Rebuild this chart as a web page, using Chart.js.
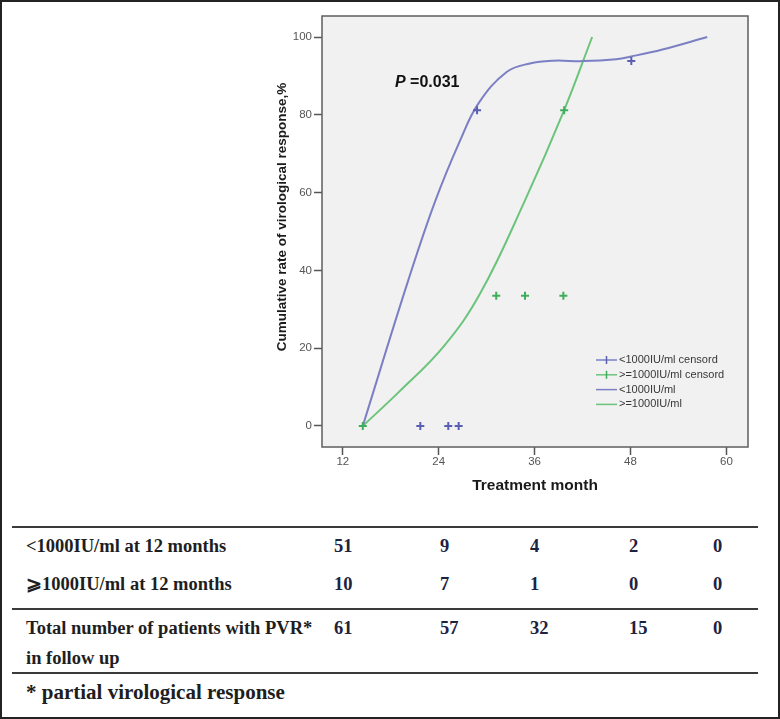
<!DOCTYPE html>
<html>
<head>
<meta charset="utf-8">
<title>Cumulative rate of virological response</title>
<script src="https://cdn.jsdelivr.net/npm/chart.js"></script>
<style>
  body { margin: 0; background: #fff; }
  #wrap { position: relative; width: 780px; height: 719px; overflow: hidden; background: #fff; }
  #frame { position: absolute; left: 0; top: 0; width: 780px; height: 719px; box-sizing: border-box; border: 2px solid #232323; pointer-events: none; }
  #chart { position: absolute; left: 0; top: 0; }
  .rule { position: absolute; left: 12px; width: 746px; height: 2px; background: #3a3a3a; }
  .cell { position: absolute; font: bold 18.5px "Liberation Serif", "Times New Roman", serif; line-height: 22px; color: #1e1e1e; white-space: nowrap; }
  .num { color: #1c2342; }
  .note { font-size: 21px; }
</style>
</head>
<body>
<div id="wrap">
  <canvas id="chart" width="780" height="500"></canvas>
  <div id="table"></div>
  <div id="frame"></div>
</div>
<script>
// values: treatment month vs cumulative rate (%)
var xTicks = [12, 24, 36, 48, 60];
var yTicks = [0, 20, 40, 60, 80, 100];

var lowCurveMonths = [14.5, 20.2, 23.6, 26.7, 29.0, 32.5, 35.4, 38.3, 42.1, 46.2, 48.1, 52.0, 57.6];
var lowCurveRates  = [0, 37.5, 58, 73.5, 83, 91, 93.2, 93.9, 93.8, 94.3, 95, 96.8, 100];

var highCurveMonths = [14.5, 19.0, 24.6, 29.2, 34.8, 39.7, 43.2];
var highCurveRates  = [0, 8.7, 20.4, 34.1, 58, 81.2, 100];

var lowCensorMonths = [21.7, 25.2, 26.5, 28.8, 48.1];
var lowCensorRates  = [0, 0, 0, 81.2, 93.8];

var highCensorMonths = [14.5, 31.2, 34.8, 39.6, 39.7];
var highCensorRates  = [0, 33.5, 33.5, 33.5, 81.2];

// numbers at risk table
var rowLabels = ['<1000IU/ml at 12 months', '\u2A7E1000IU/ml at 12 months', 'Total number of patients with PVR*'];
var lowCounts = [51, 9, 4, 2, 0];
var highCounts = [10, 7, 1, 0, 0];
var totalCounts = [61, 57, 32, 15, 0];

function toPoints(xs, ys) {
    return xs.map(function(x, i) { return {x: x, y: ys[i]}; });
}

var BLUE_LINE = '#7b7fc3', BLUE_MARK = '#5a5fb2';
var GREEN_LINE = '#6cc47c', GREEN_MARK = '#3fae5c';
var SANS = '"Liberation Sans", Arial, sans-serif';

Chart.defaults.font.family = SANS;

var framePlugin = {
    id: 'frame',
    beforeDraw: function(chart) {
        var a = chart.chartArea, ctx = chart.ctx;
        ctx.save();
        ctx.fillStyle = '#f1f1f1';
        ctx.fillRect(a.left, a.top, a.right - a.left, a.bottom - a.top);
        ctx.restore();
    },
    afterDraw: function(chart) {
        var a = chart.chartArea, ctx = chart.ctx;
        ctx.save();
        ctx.strokeStyle = '#5e5e5e';
        ctx.lineWidth = 1.5;
        ctx.strokeRect(a.left, a.top, a.right - a.left, a.bottom - a.top);

        // y axis title, sits a little above the middle of the axis
        ctx.save();
        ctx.translate(a.left - 40, a.top + 201);
        ctx.rotate(-Math.PI / 2);
        ctx.font = 'bold 13.5px ' + SANS;
        ctx.fillStyle = '#1a1a1a';
        ctx.textAlign = 'center';
        ctx.textBaseline = 'middle';
        ctx.fillText('Cumulative rate of virological response,%', 0, 0);
        ctx.restore();

        // legend in lower right of the plot
        var x0 = a.right - 152;
        ctx.font = '11px ' + SANS;
        ctx.textBaseline = 'middle';
        chart.data.datasets.forEach(function(ds, i) {
            var y = a.bottom - 87 + i * 14.8;
            ctx.strokeStyle = ds.legendColor;
            ctx.lineWidth = 1.5;
            ctx.beginPath();
            ctx.moveTo(x0, y);
            ctx.lineTo(x0 + 21, y);
            ctx.stroke();
            if (ds.pointStyle === 'cross') {
                ctx.strokeStyle = ds.borderColor;
                ctx.beginPath();
                ctx.moveTo(x0 + 10.5, y - 4);
                ctx.lineTo(x0 + 10.5, y + 4);
                ctx.stroke();
            }
            ctx.fillStyle = '#383838';
            ctx.fillText(ds.label, x0 + 23, y);
        });

        // log rank p value
        var px = a.left + 73, py = a.top + 67;
        ctx.fillStyle = '#111';
        ctx.font = 'italic bold 16px ' + SANS;
        ctx.fillText('P', px, py);
        var w = ctx.measureText('P').width;
        ctx.font = 'bold 16px ' + SANS;
        ctx.fillText(' =0.031', px + w, py);
        ctx.restore();
    }
};

var tickFont = {size: 11.5};

new Chart(document.getElementById('chart').getContext('2d'), {
    type: 'line',
    data: {
        datasets: [{
            label: '<1000IU/ml censord',
            data: toPoints(lowCensorMonths, lowCensorRates),
            showLine: false,
            pointStyle: 'cross',
            pointRadius: 4,
            pointBorderWidth: 2,
            borderColor: BLUE_MARK,
            backgroundColor: BLUE_MARK,
            legendColor: BLUE_LINE,
            order: 0
        }, {
            label: '>=1000IU/ml censord',
            data: toPoints(highCensorMonths, highCensorRates),
            showLine: false,
            pointStyle: 'cross',
            pointRadius: 4,
            pointBorderWidth: 2,
            borderColor: GREEN_MARK,
            backgroundColor: GREEN_MARK,
            legendColor: GREEN_LINE,
            order: 0
        }, {
            label: '<1000IU/ml',
            data: toPoints(lowCurveMonths, lowCurveRates),
            borderColor: BLUE_LINE,
            legendColor: BLUE_LINE,
            borderWidth: 2,
            pointRadius: 0,
            tension: 0.4,
            fill: false,
            order: 1
        }, {
            label: '>=1000IU/ml',
            data: toPoints(highCurveMonths, highCurveRates),
            borderColor: GREEN_LINE,
            legendColor: GREEN_LINE,
            borderWidth: 2,
            pointRadius: 0,
            tension: 0.4,
            fill: false,
            order: 1
        }]
    },
    options: {
        responsive: false,
        animation: false,
        layout: {padding: {left: 271, top: 16, right: 32, bottom: 3}},
        plugins: {legend: {display: false}, tooltip: {enabled: false}},
        scales: {
            x: {
                type: 'linear',
                min: 9.4,
                max: 62.7,
                afterBuildTicks: function(s) { s.ticks = xTicks.map(function(v) { return {value: v}; }); },
                afterFit: function(s) { s.height = 50; },
                grid: {drawOnChartArea: false, drawTicks: true, tickLength: 8, tickColor: '#555', tickWidth: 1.5},
                border: {display: false},
                ticks: {padding: 0, color: '#555', font: tickFont},
                title: {display: true, text: 'Treatment month', color: '#1a1a1a', font: {size: 15.5, weight: 'bold'}, padding: {top: 4, bottom: 2}}
            },
            y: {
                type: 'linear',
                min: -5.4,
                max: 105.4,
                afterBuildTicks: function(s) { s.ticks = yTicks.map(function(v) { return {value: v}; }); },
                afterFit: function(s) { s.width = 51; },
                grid: {drawOnChartArea: false, drawTicks: true, tickLength: 8, tickColor: '#555', tickWidth: 1.5},
                border: {display: false},
                ticks: {padding: 2, color: '#555', font: tickFont}
            }
        }
    },
    plugins: [framePlugin]
});

// numbers at risk table below the plot
var table = document.getElementById('table');
function addText(text, left, centerY, cls) {
    var d = document.createElement('div');
    d.className = 'cell' + (cls ? ' ' + cls : '');
    d.textContent = text;
    d.style.left = left + 'px';
    d.style.top = (centerY - 11) + 'px';
    table.appendChild(d);
}
function addRule(top) {
    var r = document.createElement('div');
    r.className = 'rule';
    r.style.top = top + 'px';
    table.appendChild(r);
}

var colLeft = [334, 440, 530, 629, 713];
var rowCenter = [546, 584, 628];
[lowCounts, highCounts, totalCounts].forEach(function(counts, r) {
    addText(rowLabels[r], 26, rowCenter[r]);
    counts.forEach(function(c, i) { addText(String(c), colLeft[i], rowCenter[r], 'num'); });
});
addText('in follow up', 26, 658);
addText('* partial virological response', 26, 692, 'note');
addRule(526);
addRule(608);
addRule(672);
</script>
</body>
</html>
